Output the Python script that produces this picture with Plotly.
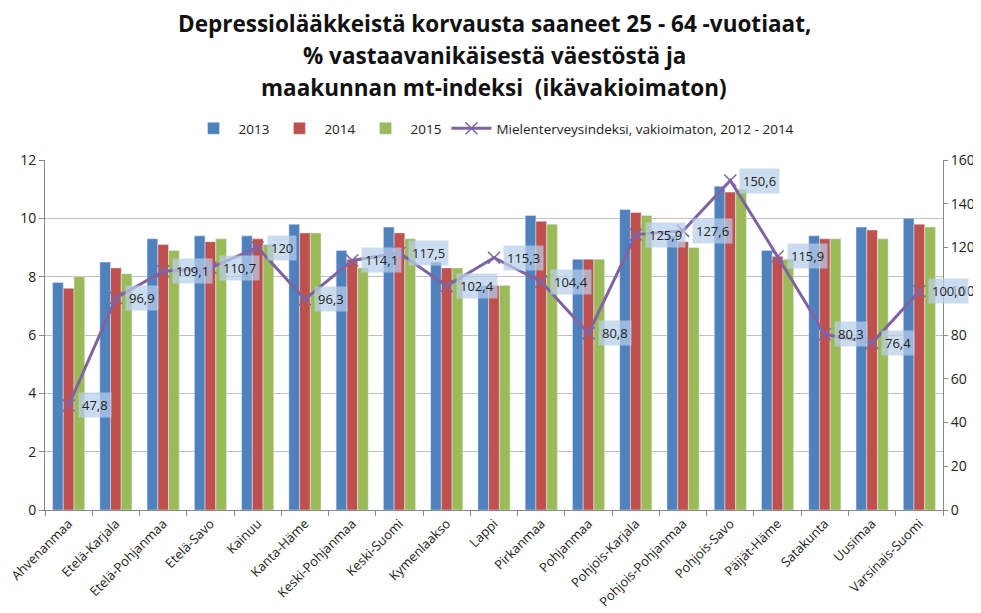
import plotly.graph_objects as go

regions = ["Ahvenanmaa", "Etelä-Karjala", "Etelä-Pohjanmaa", "Etelä-Savo", "Kainuu",
           "Kanta-Häme", "Keski-Pohjanmaa", "Keski-Suomi", "Kymenlaakso", "Lappi",
           "Pirkanmaa", "Pohjanmaa", "Pohjois-Karjala", "Pohjois-Pohjanmaa", "Pohjois-Savo",
           "Päijät-Häme", "Satakunta", "Uusimaa", "Varsinais-Suomi"]
v2013 = [7.8, 8.5, 9.3, 9.4, 9.4, 9.8, 8.9, 9.7, 8.5, 7.7, 10.1, 8.6, 10.3, 9.4, 11.1, 8.9, 9.4, 9.7, 10.0]
v2014 = [7.6, 8.3, 9.1, 9.2, 9.3, 9.5, 8.6, 9.5, 8.3, 7.7, 9.9, 8.6, 10.2, 9.2, 10.9, 8.7, 9.3, 9.6, 9.8]
v2015 = [8.0, 8.1, 8.9, 9.3, 9.1, 9.5, 8.3, 9.3, 8.3, 7.7, 9.8, 8.6, 10.1, 9.0, 11.0, 8.6, 9.3, 9.3, 9.7]
mt_index = [47.8, 96.9, 109.1, 110.7, 120.0, 96.3, 114.1, 117.5, 102.4, 115.3, 104.4, 80.8,
            125.9, 127.6, 150.6, 115.9, 80.3, 76.4, 100.0]
mt_labels = ["47,8", "96,9", "109,1", "110,7", "120", "96,3", "114,1", "117,5", "102,4", "115,3",
             "104,4", "80,8", "125,9", "127,6", "150,6", "115,9", "80,3", "76,4", "100,0"]
title_lines = ["Depressiolääkkeistä korvausta saaneet 25 - 64 -vuotiaat,",
               "% vastaavanikäisestä väestöstä ja",
               "maakunnan mt-indeksi  (ikävakioimaton)"]

FONT = "Open Sans"
fig = go.Figure()
fig.add_bar(x=regions, y=v2013, name="2013", marker_color="#4f81bd")
fig.add_bar(x=regions, y=v2014, name="2014", marker_color="#c0504d")
fig.add_bar(x=regions, y=v2015, name="2015", marker_color="#9bbb59")
fig.add_scatter(x=regions, y=mt_index, yaxis="y2", mode="lines+markers",
                name="Mielenterveysindeksi, vakioimaton, 2012 - 2014",
                line=dict(color="#8064a2", width=3),
                marker=dict(symbol="x-thin", size=12, line=dict(color="#8064a2", width=1.5)))

annotations = []
for r, v, t in zip(regions, mt_index, mt_labels):
    annotations.append(dict(x=r, y=v, yref="y2", xref="x", text=t, showarrow=False,
                            xanchor="left", yanchor="middle", xshift=9,
                            bgcolor="rgba(184,206,234,0.72)", borderpad=3,
                            font=dict(family=FONT, size=13, color="#222")))

# title lines as paper annotations (plot area is 350 px tall)
for i, (line, yp) in enumerate(zip(title_lines, [1.391, 1.299, 1.206])):
    annotations.append(dict(x=0.5, y=yp, xref="paper", yref="paper", text="<b>%s</b>" % line,
                            showarrow=False, xanchor="center", yanchor="middle",
                            font=dict(family=FONT, size=22.5, color="#111")))

n = len(regions)
# page body has an 8px default margin, so the figure is offset by 8px
fig.update_layout(
    width=981, height=613,
    margin=dict(l=37, r=46, t=152, b=111, autoexpand=False),
    paper_bgcolor="white", plot_bgcolor="white",
    barmode="group", bargap=0.32, bargroupgap=0,
    font=dict(family=FONT, size=12, color="#222"),
    legend=dict(orientation="h", x=0.5, xanchor="center", y=1.09, yanchor="middle",
                font=dict(family=FONT, size=13.5), itemwidth=40),
    xaxis=dict(tickangle=-45, ticks="outside", tickson="boundaries", ticklen=5,
               tickcolor="#888", showline=True, linecolor="#888", tickfont=dict(size=13),
               automargin=False, range=[-0.5, n - 0.5]),
    yaxis=dict(range=[0, 12], dtick=2, showgrid=True, gridcolor="#c0c0c0", showline=True,
               linecolor="#888", ticks="outside", ticklen=5, tickcolor="#888",
               tickfont=dict(size=14), automargin=False),
    yaxis2=dict(range=[0, 160], dtick=20, overlaying="y", side="right", showgrid=False,
                showline=True, linecolor="#888", ticks="outside", ticklen=4, tickcolor="#888",
                tickfont=dict(size=14), automargin=False),
    annotations=annotations,
)
fig.write_html("out.html")
